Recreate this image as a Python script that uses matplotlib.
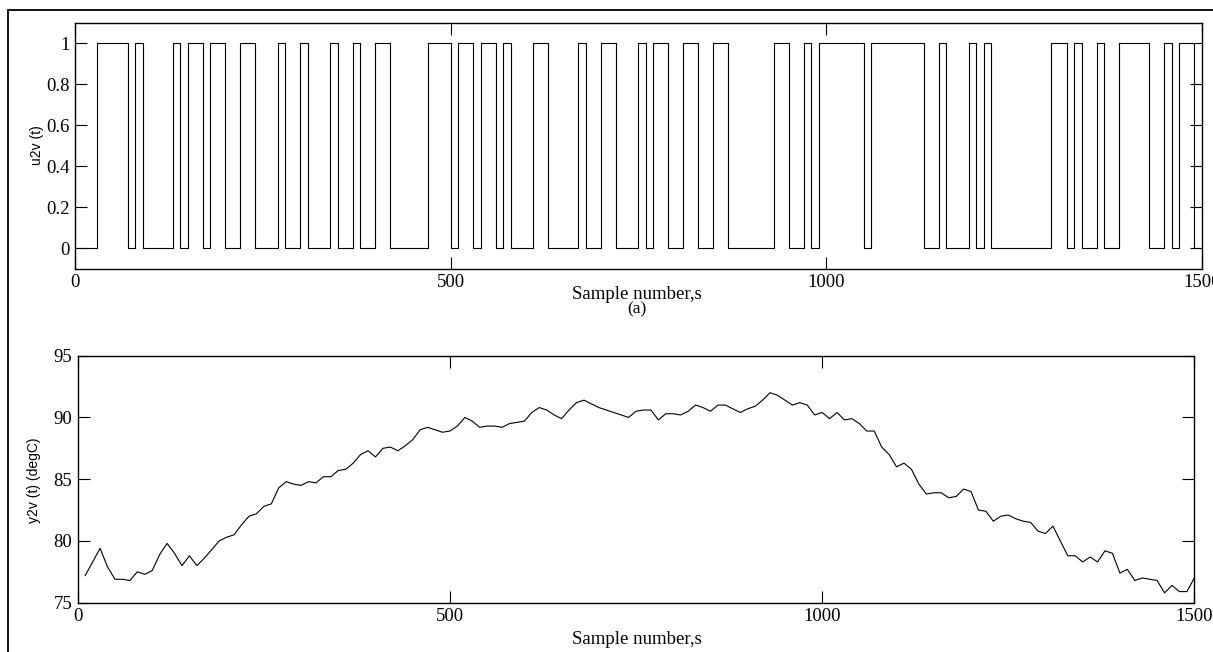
#!/usr/bin/env python3

import numpy as np
import matplotlib
matplotlib.use("Agg")
import matplotlib.pyplot as plt
from matplotlib.patches import Rectangle

# (a) PRBS input: sample numbers where u2v switches (starts at 0, alternates)
U_SWITCHES = [30, 70, 80, 90, 130, 140, 150, 170, 180, 200,
              220, 240, 270, 280, 300, 310, 340, 350, 370, 380,
              400, 420, 470, 500, 510, 530, 540, 560, 570, 580,
              610, 630, 670, 680, 700, 720, 750, 760, 770, 790,
              810, 830, 850, 870, 930, 950, 970, 980, 990, 1050,
              1060, 1130, 1150, 1160, 1190, 1200, 1210, 1220, 1300, 1320,
              1330, 1340, 1360, 1370, 1390, 1430, 1450, 1460, 1470, 1490]
U_START = 1
U_END = 1500

# (b) measured temperature, one value every 10 samples
Y_SAMPLES = list(range(10, 1501, 10))
Y2V = [77.2, 78.3, 79.4, 77.9, 76.9, 76.9, 76.8, 77.5, 77.3, 77.6,
       78.9, 79.8, 79.0, 78.0, 78.8, 78.0, 78.6, 79.3, 80.0, 80.3,
       80.5, 81.3, 82.0, 82.2, 82.8, 83.0, 84.3, 84.8, 84.6, 84.5,
       84.8, 84.7, 85.2, 85.2, 85.7, 85.8, 86.3, 87.0, 87.3, 86.8,
       87.5, 87.6, 87.3, 87.7, 88.2, 89.0, 89.2, 89.0, 88.8, 88.9,
       89.3, 90.0, 89.7, 89.2, 89.3, 89.3, 89.2, 89.5, 89.6, 89.7,
       90.4, 90.8, 90.6, 90.2, 89.9, 90.6, 91.2, 91.4, 91.1, 90.8,
       90.6, 90.4, 90.2, 90.0, 90.5, 90.6, 90.6, 89.8, 90.3, 90.3,
       90.2, 90.5, 91.0, 90.8, 90.5, 91.0, 91.0, 90.7, 90.4, 90.7,
       90.9, 91.4, 92.0, 91.8, 91.4, 91.0, 91.2, 91.0, 90.2, 90.4,
       89.9, 90.4, 89.8, 89.9, 89.5, 88.9, 88.9, 87.6, 87.0, 86.0,
       86.3, 85.8, 84.6, 83.8, 83.9, 83.9, 83.5, 83.6, 84.2, 84.0,
       82.5, 82.4, 81.6, 82.0, 82.1, 81.8, 81.6, 81.5, 80.8, 80.6,
       81.2, 80.0, 78.8, 78.8, 78.3, 78.7, 78.3, 79.2, 79.0, 77.4,
       77.7, 76.8, 77.0, 76.9, 76.8, 75.8, 76.4, 75.9, 75.9, 77.0]

SERIF = "Liberation Serif"
SANS = "Liberation Sans"
W, H = 1213, 652

# build step edges / levels from the switch list
edges = [U_START] + U_SWITCHES + [U_END]
levels = [(i % 2) for i in range(len(U_SWITCHES) + 1)]
levels.append(levels[-1])

fig = plt.figure(figsize=(W / 100, H / 100), dpi=100)
ax1 = fig.add_axes([0.0618, 0.5879, 0.9289, 0.3773])
ax2 = fig.add_axes([0.0641, 0.0756, 0.9205, 0.3789])


def matlab_style(ax):
    for s in ax.spines.values():
        s.set_linewidth(1.0)
    ax.tick_params(direction="in", length=8.5, width=0.8, top=True, right=True,
                   labelsize=13.5, pad=4)
    for lab in ax.get_xticklabels() + ax.get_yticklabels():
        lab.set_fontfamily(SERIF)


def ftext(px, py, s, **kw):
    # place text by pixel position (from top-left)
    fig.text(px / W, 1 - py / H, s, ha="center", va="center", **kw)


ax1.step(edges, levels, where="post", color="black", lw=0.8)
ax1.set_xlim(0, 1500)
ax1.set_ylim(-0.1, 1.1)
ax1.set_xticks([0, 500, 1000, 1500])
ax1.set_yticks([0, 0.2, 0.4, 0.6, 0.8, 1])
ax1.set_yticklabels(["0", "0.2", "0.4", "0.6", "0.8", "1"])
matlab_style(ax1)
ftext(637, 294, "Sample number,s", fontfamily=SERIF, fontsize=13.5)
ftext(637, 309, "(a)", fontfamily=SERIF, fontsize=12.5)
ftext(37, 145, "u2v (t)", fontfamily=SANS, fontsize=10, rotation=90)

ax2.plot(Y_SAMPLES, Y2V, color="black", lw=0.8)
ax2.set_xlim(0, 1500)
ax2.set_ylim(75, 95)
ax2.set_xticks([0, 500, 1000, 1500])
ax2.set_yticks([75, 80, 85, 90, 95])
matlab_style(ax2)
ftext(637, 640, "Sample number,s", fontfamily=SERIF, fontsize=13.5)
ftext(34, 480, "y2v (t) (degC)", fontfamily=SANS, fontsize=10, rotation=90)

# outer frame around the figure (runs off right and bottom edges)
frame = Rectangle((8 / W, -0.05), 1.1, 1 - 10 / H + 0.05,
                  transform=fig.transFigure, fill=False, lw=1.3,
                  edgecolor="black", clip_on=False)
fig.patches.append(frame)

fig.savefig("out.png", dpi=100)
print("Saved to out.png")
